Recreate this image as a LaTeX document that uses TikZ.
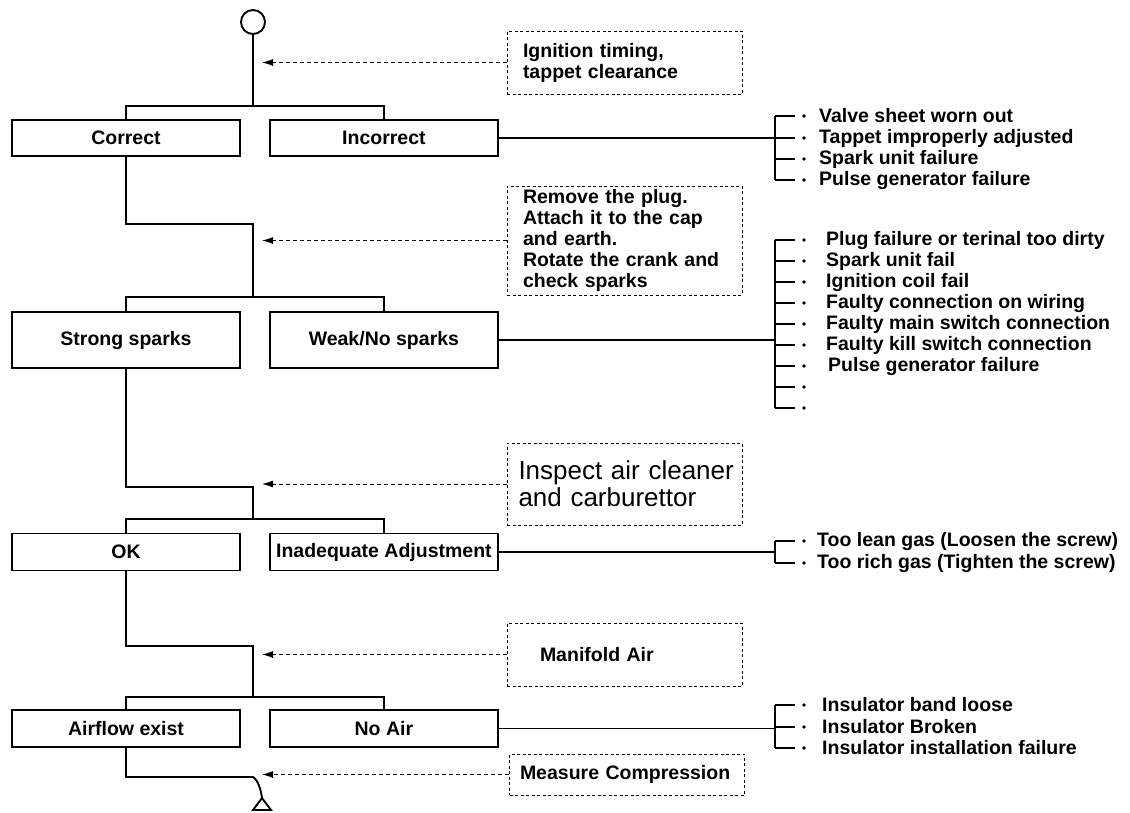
\documentclass[tikz,border=0pt]{standalone}
\usepackage{fontspec}
\setmainfont{Liberation Sans}
\usetikzlibrary{positioning, arrows.meta}

\begin{document}
\begin{tikzpicture}[
    x=1pt, y=-1pt,
    node distance=28pt,
    outcome/.style={
        rectangle,
        minimum width=228pt,
        minimum height=36pt,
        align=center,
        draw, line width=1.9pt,
        font=\bfseries\fontsize{19.5}{21}\selectfont
    },
    check/.style={
        rectangle,
        draw, line width=0.8pt, dash pattern=on 3pt off 2.5pt,
        text width=203pt, inner xsep=16pt,
        minimum height=63pt,
        align=left,
        font=\bfseries\fontsize{19.5}{21}\selectfont
    },
    cause/.style={anchor=west, inner sep=0pt, font=\bfseries\fontsize{19.5}{21}\selectfont},
    flow/.style={line width=1.9pt},
    hint/.style={line width=0.9pt, dash pattern=on 4pt off 3pt, -{Latex[length=11pt,width=7pt]}}
]
\useasboundingbox (0,0) rectangle (1130,812);

% Spine points
\node (start) [circle, draw, line width=1.9pt, minimum size=24pt, inner sep=0pt] at (253,22) {};
\coordinate (j1) at (253,106);
\coordinate (k2) at (253,224);
\coordinate (j2) at (253,297);
\coordinate (k3) at (253,487);
\coordinate (j3) at (253,519);
\coordinate (k4) at (253,646);
\coordinate (j4) at (253,697);
\coordinate (k5) at (253,777);
\coordinate (stop) at (262,798);
\coordinate (tip) at (262,0);
\coordinate (br) at (775,0);

% Outcomes
\node (corr) [outcome] at (126,138) {Correct};
\node (inc) [outcome, right=of corr] {Incorrect};
\node (strong) [outcome, minimum height=56pt] at (126,340) {Strong sparks};
\node (weak) [outcome, minimum height=56pt, right=of strong] {Weak/No sparks};
\node (ok) [outcome, minimum height=37pt] at (126,552) {OK};
\node (adj) [outcome, minimum height=37pt, right=of ok] {Inadequate Adjustment};
\node (air) [outcome, minimum height=37pt] at (126,728.5) {Airflow exist};
\node (noair) [outcome, minimum height=37pt, right=of air] {No Air};

% Checks
\node (tim) [check] at (624.5,62.5) {Ignition timing,\\ tappet clearance\\[4pt]};
\node (plug) [check, minimum height=105pt] at (624.5,240.5) {Remove the plug.\\ Attach it to the cap\\ and earth.\\ Rotate the crank and\\ check sparks};
\node (carb) [check, minimum height=82pt, text width=220pt, inner xsep=7.5pt,
    font=\fontsize{26}{27}\selectfont] at (624.5,484) {\mbox{\hspace*{4pt}Inspect air cleaner}\\ \mbox{\hspace*{4pt}and carburettor}};
\node (mani) [check] at (624.5,654.5) {\hspace*{17pt}Manifold Air};
\node (comp) [check, minimum height=41pt, text width=214pt, inner xsep=10.5pt] at (627,774.5) {Measure Compression};

% Causes
\node (v1) [cause] at (819,116) {Valve sheet worn out};
\node (v2) [cause] at (819,138) {Tappet improperly adjusted};
\node (v3) [cause] at (819,159) {Spark unit failure};
\node (v4) [cause] at (819,180) {Pulse generator failure};

\node (s1) [cause] at (826,240) {Plug failure or terinal too dirty};
\node (s2) [cause] at (826,261) {Spark unit fail};
\node (s3) [cause] at (826,282) {Ignition coil fail};
\node (s4) [cause] at (826,303) {Faulty connection on wiring};
\node (s5) [cause] at (826,324) {Faulty main switch connection};
\node (s6) [cause] at (826,345) {Faulty kill switch connection};
\node (s7) [cause] at (828,366) { Pulse generator failure};
\node (s8) [cause] at (826,387) {};
\node (s9) [cause] at (826,408) {};

\node (g1) [cause] at (817,541) {Too lean gas (Loosen the screw)};
\node (g2) [cause] at (817,563) {Too rich gas (Tighten the screw)};

\node (n1) [cause] at (822,705) {Insulator band loose};
\node (n2) [cause] at (822,727) {Insulator Broken};
\node (n3) [cause] at (822,748) {Insulator installation failure};

% Spine
\draw [flow] (start.south) -- (j1);
\draw [flow] (corr.north) |- (j1) -| (inc.north);
\draw [flow] (corr.south) |- (k2) -- (j2);
\draw [flow] (strong.north) |- (j2) -| (weak.north);
\draw [flow] (strong.south) |- (k3) -- (j3);
\draw [flow] (ok.north) |- (j3) -| (adj.north);
\draw [flow] (ok.south) |- (k4) -- (j4);
\draw [flow] (air.north) |- (j4) -| (noair.north);
\draw [flow] (air.south) |- (k5) .. controls (258,780) and (261,790) .. (stop);
\draw [flow] (stop) -- ++(-9,12) -- ++(18,0) -- cycle;

% Hints
\draw [hint] (tim.west) -- (tim.west -| tip);
\draw [hint] (plug.west) -- (plug.west -| tip);
\draw [hint] (carb.west) -- (carb.west -| tip);
\draw [hint] (mani.west) -- (mani.west -| tip);
\draw [hint] (comp.west) -- (comp.west -| tip);

% Brackets
\draw [flow] (inc.east) -- (inc.east -| br);
\draw [flow] (weak.east) -- (weak.east -| br);
\draw [flow] (adj.east) -- (adj.east -| br);
\draw [flow] (noair.east) -- (noair.east -| br);
\draw [flow] (v1 -| br) -- (v4 -| br);
\draw [flow] (s1 -| br) -- (s9 -| br);
\draw [flow] (g1 -| br) -- (g2 -| br);
\draw [flow] (n1 -| br) -- (n3 -| br);
\foreach \c in {v1,v2,v3,v4,s1,s2,s3,s4,s5,s6,s7,s8,s9,g1,g2,n1,n2,n3} {
    \draw [flow] (\c -| br) -- ++(20,0);
    \fill (\c -| br) ++(29,0) circle (1.8pt);
}

\end{tikzpicture}
\end{document}
